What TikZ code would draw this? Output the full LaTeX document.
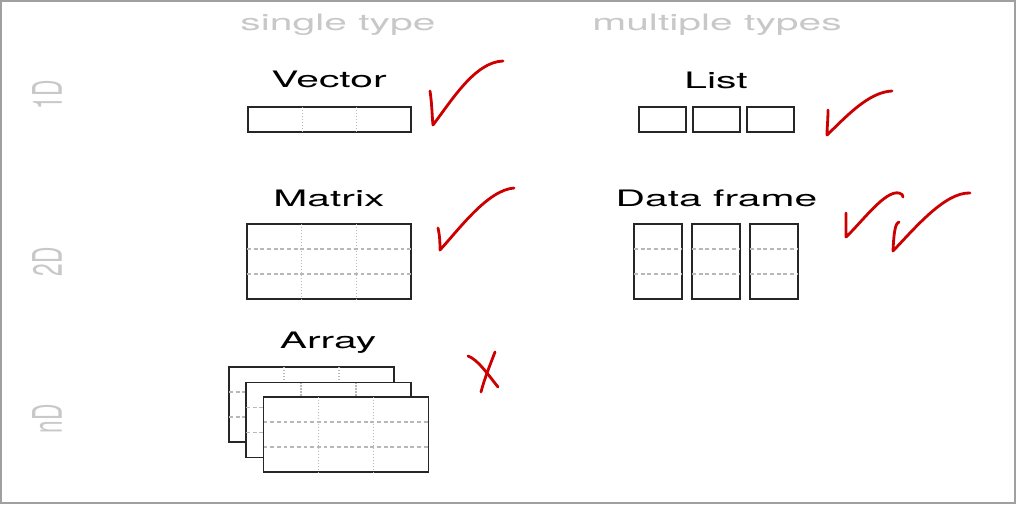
\documentclass[tikz,border=0pt]{standalone}
\usepackage{fontspec}
\setmainfont{TeX Gyre Heros}
\usetikzlibrary{calc,positioning}
\definecolor{headgray}{HTML}{C8C8C8}
\definecolor{boxgray}{HTML}{262626}
\definecolor{gridgray}{HTML}{B8B8B8}
\definecolor{tickred}{HTML}{CC0000}
\definecolor{framegray}{HTML}{A0A0A0}
\tikzset{
  title/.style={font=\fontsize{12.9}{14}\selectfont, xscale=1.8, anchor=base, inner sep=0pt},
  header/.style={title, text=headgray},
  dimlabel/.style={font=\fontsize{12.9}{14}\selectfont, text=headgray, xscale=1.8, rotate=90, inner sep=0pt},
  cell/.style={draw=boxgray, fill=white, line width=1.1pt, inner sep=0pt, outer sep=0pt},
  rowline/.style={draw=gridgray, dash pattern=on 2.2pt off 1.6pt, line width=0.7pt},
  colline/.style={draw=gridgray, dash pattern=on 0.6pt off 1.1pt, line width=0.9pt},
  tick/.style={draw=tickred, line width=1.6pt, line cap=round, line join=round}
}
\newcommand{\rowlines}[1]{\foreach \f in {0.3333,0.6667}
  \draw[rowline] ($(#1.north west)!\f!(#1.south west)$) -- ($(#1.north east)!\f!(#1.south east)$);}
\newcommand{\collines}[1]{\foreach \f in {0.3333,0.6667}
  \draw[colline] ($(#1.north west)!\f!(#1.north east)$) -- ($(#1.south west)!\f!(#1.south east)$);}

\begin{document}
\begin{tikzpicture}[x=0.02cm, y=-0.02cm]
	\useasboundingbox (0,0) rectangle (1017,506);
	\draw[framegray, line width=1pt] (1,1) rectangle (1015,503);
	
	% column and row headings
	\node[header] (single)   at (338,31) {single type};
	\node[header] (multiple) at (717,31) {multiple types};
	\node[dimlabel] (oneD) at (47,95)  {1D};
	\node[dimlabel] (twoD) at (47,262) {2D};
	\node[dimlabel] (nD)   at (47,419) {nD};
	
	% 1D
	\node[title] (vectortitle) at (329,88) {Vector};
	\node[cell, minimum width=3.26cm, minimum height=0.5cm] (vector) at (329.5,119.5) {};
	\collines{vector}
	
	\node[title] (listtitle) at (716,89) {List};
	\node[cell, minimum width=0.94cm, minimum height=0.5cm] (list1) at (662.5,119.5) {};
	\node[cell, minimum width=0.94cm, minimum height=0.5cm, right=0.14cm of list1] (list2) {};
	\node[cell, minimum width=0.94cm, minimum height=0.5cm, right=0.14cm of list2] (list3) {};
	
	% 2D
	\node[title] (matrixtitle) at (329,207) {Matrix};
	\node[cell, minimum width=3.28cm, minimum height=1.5cm] (matrix) at (329,261.5) {};
	\rowlines{matrix}
	\collines{matrix}
	
	\node[title] (dftitle) at (716.5,207) {Data frame};
	\node[cell, minimum width=0.96cm, minimum height=1.5cm] (df1) at (658,261.5) {};
	\node[cell, minimum width=0.96cm, minimum height=1.5cm, right=0.2cm of df1] (df2) {};
	\node[cell, minimum width=0.96cm, minimum height=1.5cm, right=0.2cm of df2] (df3) {};
	\rowlines{df1}
	\rowlines{df2}
	\rowlines{df3}
	
	% nD
	\node[title] (arraytitle) at (328,349) {Array};
	\node[cell, minimum width=3.3cm, minimum height=1.5cm] (sheet1) at (311.5,404.5) {};
	\rowlines{sheet1}
	\collines{sheet1}
	\node[cell, minimum width=3.3cm, minimum height=1.5cm] (sheet2) at (328.5,420) {};
	\rowlines{sheet2}
	\collines{sheet2}
	\node[cell, minimum width=3.3cm, minimum height=1.5cm] (sheet3) at (346,434.5) {};
	\rowlines{sheet3}
	\collines{sheet3}
	
	% hand-drawn marks
	\draw[tick] (430,91) .. controls (432,104) and (432,116) .. (433,125) .. controls (452,100) and (475,62) .. (503,61);
	\draw[tick] (438,228) .. controls (440,237) and (440,244) .. (440,250) .. controls (460,228) and (488,190) .. (514,188);
	\draw[tick] (828,110) .. controls (828,120) and (827,128) .. (827,135) .. controls (845,118) and (868,92) .. (892,91);
	\draw[tick] (846,213) .. controls (846,222) and (846,230) .. (846,237) .. controls (862,222) and (885,190) .. (899,193) .. controls (902,194) and (903,195) .. (903,197);
	\draw[tick] (899,222) .. controls (896,223) and (894,228) .. (893,251) .. controls (915,228) and (945,192) .. (970,193);
	\draw[tick] (468,356) .. controls (478,360) and (486,372) .. (498,387);
	\draw[tick] (495,352) .. controls (490,365) and (484,380) .. (481,392);
\end{tikzpicture}
\end{document}
